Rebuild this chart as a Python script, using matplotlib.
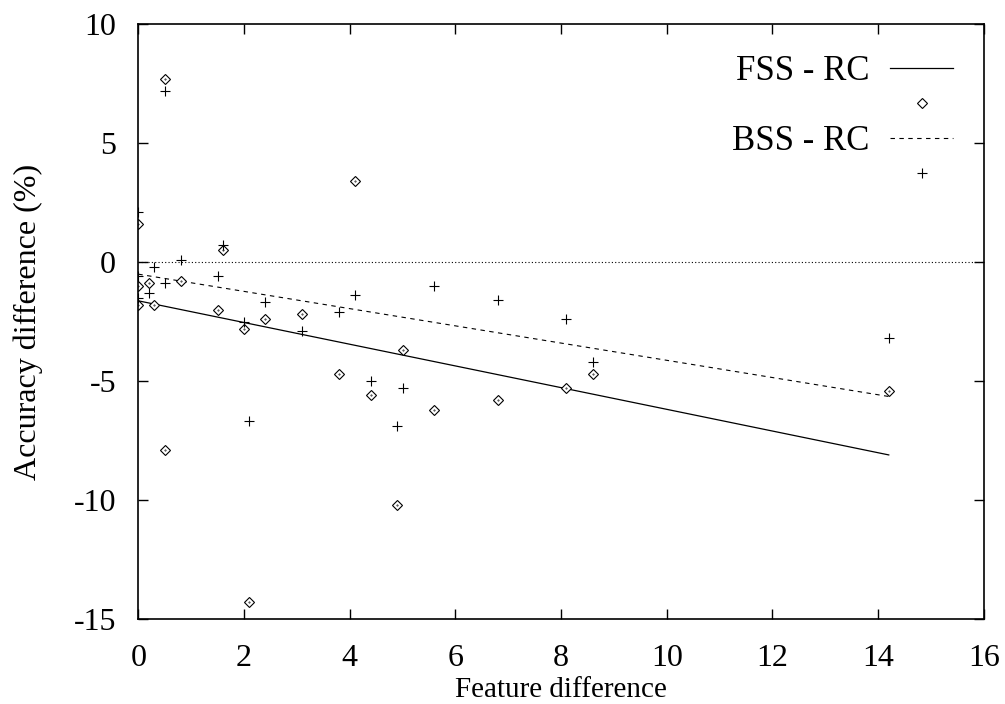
import numpy as np
import matplotlib
matplotlib.use("Agg")
import matplotlib.pyplot as plt

plt.rcParams['font.family'] = ['Liberation Serif', 'DejaVu Serif']
plt.rcParams['axes.unicode_minus'] = False

# feature difference vs accuracy difference, forward selection minus RC
fss_x = [0.5, 4.1, 0, 1.6, 0, 0.2, 0.8, 0, 0.3, 1.5, 2.0, 2.4,
         3.1, 3.8, 4.4, 0.5, 2.1, 5.0, 5.6, 6.8, 8.6, 8.1, 4.9, 14.2]
fss_y = [7.7, 3.4, 1.6, 0.5, -1.0, -0.9, -0.8, -1.8, -1.8, -2.0, -2.8, -2.4,
         -2.2, -4.7, -5.6, -7.9, -14.3, -3.7, -6.2, -5.8, -4.7, -5.3, -10.2, -5.4]

# backward selection minus RC
bss_x = [0.5, 0, 1.6, 0.3, 0.8, 0, 0.5, 1.5, 0.2, 0, 2.0, 2.4,
         3.1, 4.1, 3.8, 4.4, 2.1, 5.6, 6.8, 8.1, 5.0, 4.9, 8.6, 14.2]
bss_y = [7.2, 2.1, 0.7, -0.2, 0.1, -0.6, -0.9, -0.6, -1.3, -1.5, -2.5, -1.7,
         -2.9, -1.4, -2.1, -5.0, -6.7, -1.0, -1.6, -2.4, -5.3, -6.9, -4.2, -3.2]

# linear fits (intercept, slope)
fss_fit = (-1.63, -0.456)
bss_fit = (-0.51, -0.362)

xticks = [0, 2, 4, 6, 8, 10, 12, 14, 16]
yticks = [-15, -10, -5, 0, 5, 10]

fig = plt.figure(figsize=(10.05, 7.04), dpi=100)
ax = fig.add_axes([0.1376, 0.1207, 0.8414, 0.8452])

fx = np.array([0, max(fss_x)])
bx = np.array([0, max(bss_x)])

ax.axhline(0, color='black', lw=0.8, ls=(0, (1, 2)))
line_f, = ax.plot(fx, fss_fit[0] + fss_fit[1] * fx, color='black', lw=0.9)
line_b, = ax.plot(bx, bss_fit[0] + bss_fit[1] * bx, color='black', lw=0.8,
                  ls=(0, (4, 4)))
pts_f, = ax.plot(fss_x, fss_y, ls='none', marker='D', ms=4.8, mfc='white',
                 mec='black', mew=0.8)
ax.plot(fss_x, fss_y, ls='none', marker='.', ms=0.8, color='black')
pts_b, = ax.plot(bss_x, bss_y, ls='none', marker='+', ms=7.5, mec='black',
                 mew=0.8)

ax.set_xlim(0, 16)
ax.set_ylim(-15, 10)
ax.set_xticks(xticks)
ax.set_yticks(yticks)
ax.tick_params(direction='in', length=7, width=1, top=True, right=True,
               labelsize=23)
ax.tick_params(axis='x', pad=18)
ax.tick_params(axis='y', pad=16)
for s in ax.spines.values():
    s.set_linewidth(1.2)

ax.set_xlabel('Feature difference', fontsize=21, labelpad=3)
ax.set_ylabel('Accuracy difference (%)', fontsize=23, labelpad=22)

ax.legend([line_f, pts_f, line_b, pts_b],
          ['FSS - RC', ' ', 'BSS - RC', ' '],
          loc='upper right', bbox_to_anchor=(0.9633, 0.948),
          frameon=False, fontsize=25, markerfirst=False,
          handlelength=1.8, handletextpad=0.6, labelspacing=0.06,
          borderpad=0, borderaxespad=0)

fig.savefig('out.png', dpi=100)
